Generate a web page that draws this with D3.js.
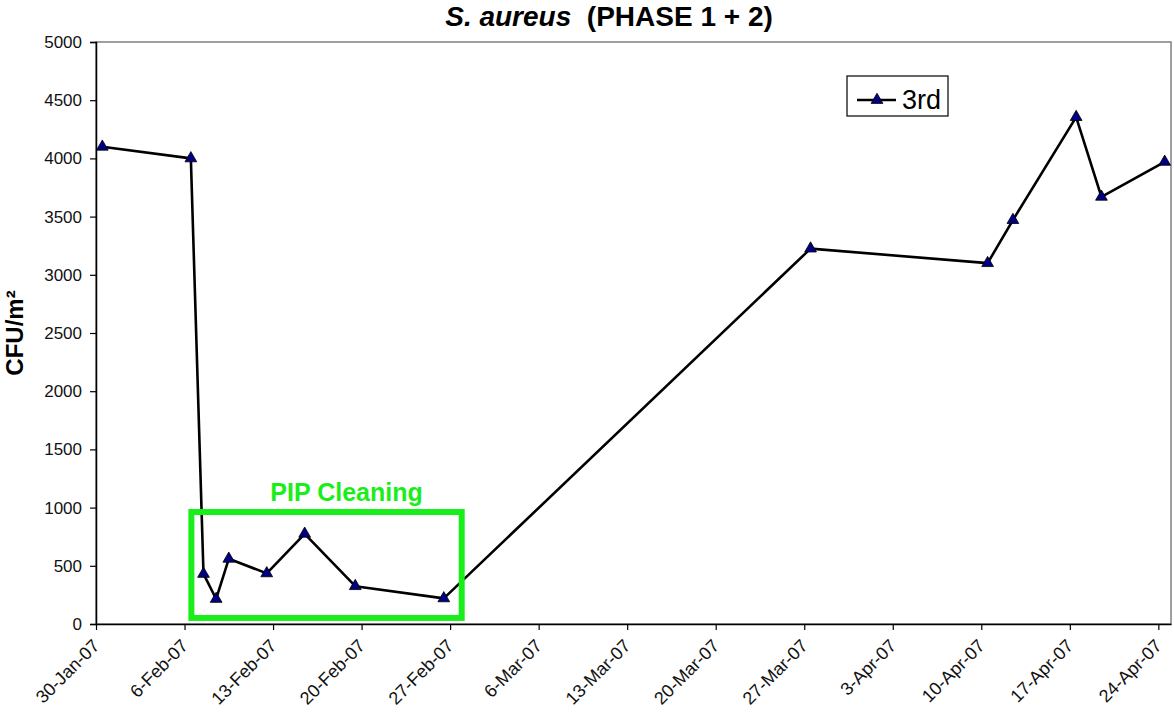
<!DOCTYPE html>
<html>
<head>
<meta charset="utf-8">
<script src="https://cdn.jsdelivr.net/npm/d3@7"></script>
<style>
  body { margin: 0; background: #fff; }
  text { font-family: "Liberation Sans", Arial, sans-serif; }
</style>
</head>
<body>
<script>
var w = 1174;
var h = 713;

// sampling dates and counts for the 3rd run
var dates = ["2007-01-30", "2007-02-06", "2007-02-07", "2007-02-08", "2007-02-09",
             "2007-02-12", "2007-02-15", "2007-02-19", "2007-02-26", "2007-03-27",
             "2007-04-10", "2007-04-12", "2007-04-17", "2007-04-19", "2007-04-24"];
var values = [4100, 4000, 430, 215, 560, 435, 775, 325, 220, 3225, 3100, 3470, 4355, 3670, 3970];
var seriesName = "3rd";

var yTicks = [0, 500, 1000, 1500, 2000, 2500, 3000, 3500, 4000, 4500, 5000];
var xStart = "2007-01-30";
var xEnd = "2007-04-25";
var xTickCount = 13; // weekly ticks

// PIP cleaning box, in data units
var pipDays = ["2007-02-06T13:00", "2007-02-27T22:00"];
var pipRange = [52, 962];

var parse = d3.utcParse("%Y-%m-%d");
var parseT = d3.utcParse("%Y-%m-%dT%H:%M");
var fmt = d3.utcFormat("%-d-%b-%y");

var margin = {left: 96, right: 3, top: 42, bottom: 89};

var x = d3.scaleUtc()
  .domain([parse(xStart), parse(xEnd)])
  .range([margin.left, w - margin.right]);

var y = d3.scaleLinear()
  .domain([0, 5000])
  .range([h - margin.bottom, margin.top]);

var xTicks = d3.range(xTickCount).map(function(k) {
  return d3.utcDay.offset(parse(xStart), 7 * k);
});

var data = dates.map(function(d, i) {
  // excel plots a day in the middle of its slot
  return {date: d3.utcHour.offset(parse(d), 12), value: values[i]};
});

var svg = d3.select("body")
  .append("svg")
  .attr("width", w)
  .attr("height", h);

// plot frame
svg.append("rect")
  .attr("x", margin.left)
  .attr("y", margin.top)
  .attr("width", w - margin.right - margin.left)
  .attr("height", h - margin.bottom - margin.top)
  .attr("fill", "none")
  .attr("stroke", "#808080")
  .attr("stroke-width", 1.5);

// y axis
var yAxis = svg.append("g")
  .attr("transform", "translate(" + margin.left + ",0)")
  .call(d3.axisLeft(y).tickValues(yTicks).tickSize(6).tickPadding(8).tickFormat(d3.format("d")));
yAxis.select(".domain").attr("stroke", "#000").attr("stroke-width", 1.5);
yAxis.selectAll(".tick line").attr("stroke", "#000").attr("stroke-width", 1.2);
yAxis.selectAll("text")
  .attr("font-size", 17)
  .attr("fill", "#111")
  .style("font-family", "'Liberation Sans', Arial, sans-serif");

// x axis
var xAxis = svg.append("g")
  .attr("transform", "translate(0," + (h - margin.bottom) + ")")
  .call(d3.axisBottom(x).tickValues(xTicks).tickSize(6).tickSizeOuter(0).tickFormat(fmt));
xAxis.select(".domain").attr("stroke", "#000").attr("stroke-width", 1.5);
xAxis.selectAll(".tick line").attr("stroke", "#000").attr("stroke-width", 1.2);
xAxis.selectAll("text")
  .attr("font-size", 18)
  .attr("fill", "#111")
  .attr("text-anchor", "end")
  .attr("y", 0)
  .attr("dy", 0)
  .attr("transform", "translate(4,23) rotate(-45)")
  .style("font-family", "'Liberation Sans', Arial, sans-serif");

// the series
var line = d3.line()
  .x(function(d) { return x(d.date); })
  .y(function(d) { return y(d.value); });

svg.append("path")
  .datum(data)
  .attr("d", line)
  .attr("fill", "none")
  .attr("stroke", "#000")
  .attr("stroke-width", 2.6)
  .attr("stroke-linejoin", "round");

var tri = d3.symbol().type(d3.symbolTriangle).size(60);

svg.selectAll(".pt")
  .data(data)
  .enter()
  .append("path")
  .attr("class", "pt")
  .attr("d", tri)
  .attr("transform", function(d) { return "translate(" + x(d.date) + "," + y(d.value) + ")"; })
  .attr("fill", "#000080")
  .attr("stroke", "#000")
  .attr("stroke-width", 0.8);

// PIP cleaning annotation
var bx0 = x(parseT(pipDays[0])), bx1 = x(parseT(pipDays[1]));
var by0 = y(pipRange[1]), by1 = y(pipRange[0]);
svg.append("rect")
  .attr("x", bx0)
  .attr("y", by0)
  .attr("width", bx1 - bx0)
  .attr("height", by1 - by0)
  .attr("fill", "none")
  .attr("stroke", "#1aee1a")
  .attr("stroke-width", 6);

svg.append("text")
  .attr("x", (bx0 + bx1) / 2 + 20)
  .attr("y", by0 - 11)
  .attr("text-anchor", "middle")
  .attr("font-size", 25)
  .attr("font-weight", "bold")
  .attr("fill", "#1aee1a")
  .text("PIP Cleaning");

// legend
var lg = svg.append("g").attr("transform", "translate(847,76)");
lg.append("rect")
  .attr("width", 101)
  .attr("height", 40)
  .attr("fill", "#fff")
  .attr("stroke", "#000")
  .attr("stroke-width", 1.2);
lg.append("line")
  .attr("x1", 10).attr("x2", 49)
  .attr("y1", 24).attr("y2", 24)
  .attr("stroke", "#000")
  .attr("stroke-width", 2.6);
lg.append("path")
  .attr("d", tri)
  .attr("transform", "translate(30,24)")
  .attr("fill", "#000080")
  .attr("stroke", "#000")
  .attr("stroke-width", 0.8);
lg.append("text")
  .attr("x", 55)
  .attr("y", 33)
  .attr("font-size", 27)
  .attr("fill", "#000")
  .text(seriesName);

// title
var title = svg.append("text")
  .attr("x", 609)
  .attr("y", 26)
  .attr("text-anchor", "middle")
  .attr("font-size", 28)
  .attr("font-weight", "bold")
  .style("white-space", "pre");
title.append("tspan").attr("font-style", "italic").text("S. aureus");
title.append("tspan").text("  (PHASE 1 + 2)");

// y label
svg.append("text")
  .attr("transform", "translate(23," + ((margin.top + h - margin.bottom) / 2) + ") rotate(-90)")
  .attr("text-anchor", "middle")
  .attr("font-size", 24)
  .attr("font-weight", "bold")
  .text("CFU/m²");
</script>
</body>
</html>
